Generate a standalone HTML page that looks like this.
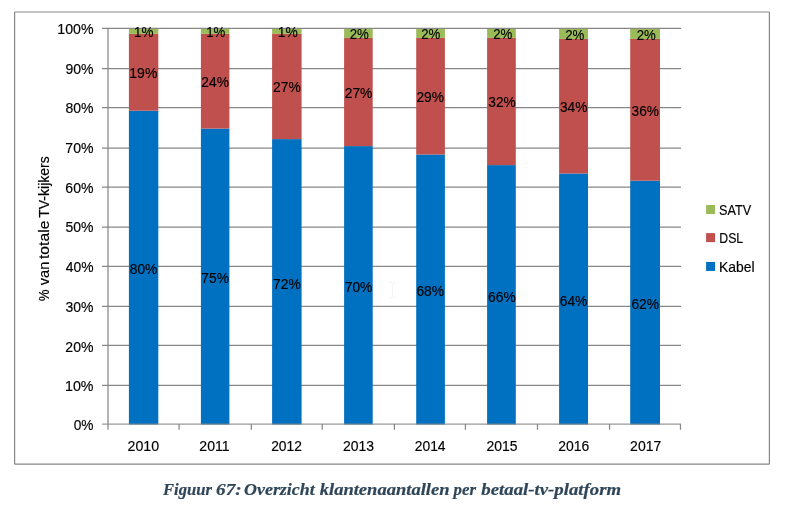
<!DOCTYPE html>
<html lang="nl">
<head>
<meta charset="utf-8">
<title>Figuur 67: Overzicht klantenaantallen per betaal-tv-platform</title>
<style>
html,body{margin:0;padding:0;background:#fff;}
body{width:797px;height:506px;overflow:hidden;}
svg{display:block;}
text{font-family:"Liberation Sans","DejaVu Sans",sans-serif;font-size:13.8px;fill:#000;stroke:#000;stroke-width:0.15px;}
.cap text,.cap tspan{font-family:"Liberation Serif","DejaVu Serif",serif;font-weight:bold;font-style:italic;font-size:17.3px;fill:#2f4559;stroke:#2f4559;stroke-width:0.2px;}
</style>
</head>
<body>
<svg width="797" height="506" viewBox="0 0 797 506">
<rect x="0" y="0" width="797" height="506" fill="#fff"/>
<!-- chart frame -->
<rect x="14.6" y="12" width="754.8" height="452.15" rx="0.6" fill="#fff" stroke="#878787" stroke-width="1.2"/>
<!-- gridlines -->
<g stroke="#878787" stroke-width="1.25">
<line x1="102.00" y1="28.48" x2="681.00" y2="28.48"/>
<line x1="102.00" y1="68.65" x2="681.00" y2="68.65"/>
<line x1="102.00" y1="107.65" x2="681.00" y2="107.65"/>
<line x1="102.00" y1="148.00" x2="681.00" y2="148.00"/>
<line x1="102.00" y1="187.00" x2="681.00" y2="187.00"/>
<line x1="102.00" y1="227.00" x2="681.00" y2="227.00"/>
<line x1="102.00" y1="266.25" x2="681.00" y2="266.25"/>
<line x1="102.00" y1="306.40" x2="681.00" y2="306.40"/>
<line x1="102.00" y1="345.42" x2="681.00" y2="345.42"/>
<line x1="102.00" y1="385.45" x2="681.00" y2="385.45"/>
</g>
<!-- axes and ticks -->
<g stroke="#878787" stroke-width="1.25">
<line x1="108.00" y1="27.98" x2="108.00" y2="429.80"/>
<line x1="179.07" y1="424.00" x2="179.07" y2="429.80"/>
<line x1="251.33" y1="424.00" x2="251.33" y2="429.80"/>
<line x1="322.23" y1="424.00" x2="322.23" y2="429.80"/>
<line x1="394.38" y1="424.00" x2="394.38" y2="429.80"/>
<line x1="465.42" y1="424.00" x2="465.42" y2="429.80"/>
<line x1="537.47" y1="424.00" x2="537.47" y2="429.80"/>
<line x1="609.57" y1="424.00" x2="609.57" y2="429.80"/>
<line x1="680.46" y1="424.00" x2="680.46" y2="429.80"/>
</g>
<!-- stacked bars -->
<g><rect x="128.90" y="110.70" width="29.4" height="313.80" fill="#0070C0"/><rect x="128.90" y="33.90" width="29.4" height="76.80" fill="#C0504D"/><rect x="128.90" y="28.98" width="29.4" height="4.92" fill="#9BBB59"/></g>
<g><rect x="200.90" y="128.60" width="28.5" height="295.90" fill="#0070C0"/><rect x="200.90" y="33.90" width="28.5" height="94.70" fill="#C0504D"/><rect x="200.90" y="28.98" width="28.5" height="4.92" fill="#9BBB59"/></g>
<g><rect x="272.10" y="139.10" width="29.5" height="285.40" fill="#0070C0"/><rect x="272.10" y="33.90" width="29.5" height="105.20" fill="#C0504D"/><rect x="272.10" y="28.98" width="29.5" height="4.92" fill="#9BBB59"/></g>
<g><rect x="344.10" y="146.10" width="28.6" height="278.40" fill="#0070C0"/><rect x="344.10" y="37.90" width="28.6" height="108.20" fill="#C0504D"/><rect x="344.10" y="28.98" width="28.6" height="8.92" fill="#9BBB59"/></g>
<g><rect x="416.20" y="154.50" width="28.7" height="270.00" fill="#0070C0"/><rect x="416.20" y="37.90" width="28.7" height="116.60" fill="#C0504D"/><rect x="416.20" y="28.98" width="28.7" height="8.92" fill="#9BBB59"/></g>
<g><rect x="487.10" y="165.10" width="28.7" height="259.40" fill="#0070C0"/><rect x="487.10" y="37.90" width="28.7" height="127.20" fill="#C0504D"/><rect x="487.10" y="28.98" width="28.7" height="8.92" fill="#9BBB59"/></g>
<g><rect x="559.10" y="173.50" width="28.9" height="251.00" fill="#0070C0"/><rect x="559.10" y="38.90" width="28.9" height="134.60" fill="#C0504D"/><rect x="559.10" y="28.98" width="28.9" height="9.92" fill="#9BBB59"/></g>
<g><rect x="630.20" y="180.70" width="29.8" height="243.80" fill="#0070C0"/><rect x="630.20" y="38.90" width="29.8" height="141.80" fill="#C0504D"/><rect x="630.20" y="28.98" width="29.8" height="9.92" fill="#9BBB59"/></g>
<!-- category axis line (drawn over the bars) -->
<line x1="102.00" y1="424.00" x2="681.00" y2="424.00" stroke="#878787" stroke-width="1.25" stroke-opacity="0.85"/>
<!-- data labels -->
<text x="133.91" y="37.00" textLength="19.47" lengthAdjust="spacingAndGlyphs">1%</text>
<text x="129.33" y="78.00" textLength="28.01" lengthAdjust="spacingAndGlyphs">19%</text>
<text x="129.79" y="274.00" textLength="27.54" lengthAdjust="spacingAndGlyphs">80%</text>
<text x="206.23" y="37.00" textLength="19.14" lengthAdjust="spacingAndGlyphs">1%</text>
<text x="201.36" y="87.00" textLength="27.65" lengthAdjust="spacingAndGlyphs">24%</text>
<text x="201.33" y="283.00" textLength="27.68" lengthAdjust="spacingAndGlyphs">75%</text>
<text x="277.79" y="37.00" textLength="20.01" lengthAdjust="spacingAndGlyphs">1%</text>
<text x="273.04" y="92.00" textLength="27.65" lengthAdjust="spacingAndGlyphs">27%</text>
<text x="273.01" y="289.00" textLength="27.68" lengthAdjust="spacingAndGlyphs">72%</text>
<text x="349.76" y="39.00" textLength="19.11" lengthAdjust="spacingAndGlyphs">2%</text>
<text x="344.72" y="98.00" textLength="27.65" lengthAdjust="spacingAndGlyphs">27%</text>
<text x="344.69" y="292.00" textLength="27.68" lengthAdjust="spacingAndGlyphs">70%</text>
<text x="421.26" y="39.00" textLength="19.11" lengthAdjust="spacingAndGlyphs">2%</text>
<text x="416.40" y="102.00" textLength="27.65" lengthAdjust="spacingAndGlyphs">29%</text>
<text x="416.40" y="296.00" textLength="27.65" lengthAdjust="spacingAndGlyphs">68%</text>
<text x="493.26" y="39.00" textLength="19.11" lengthAdjust="spacingAndGlyphs">2%</text>
<text x="488.26" y="107.00" textLength="27.47" lengthAdjust="spacingAndGlyphs">32%</text>
<text x="488.08" y="302.00" textLength="27.65" lengthAdjust="spacingAndGlyphs">66%</text>
<text x="565.26" y="40.00" textLength="19.11" lengthAdjust="spacingAndGlyphs">2%</text>
<text x="559.94" y="112.00" textLength="27.47" lengthAdjust="spacingAndGlyphs">34%</text>
<text x="559.76" y="306.00" textLength="27.65" lengthAdjust="spacingAndGlyphs">64%</text>
<text x="636.76" y="40.00" textLength="19.11" lengthAdjust="spacingAndGlyphs">2%</text>
<text x="631.62" y="116.00" textLength="27.47" lengthAdjust="spacingAndGlyphs">36%</text>
<text x="631.44" y="309.00" textLength="27.65" lengthAdjust="spacingAndGlyphs">62%</text>
<!-- value axis labels -->
<text x="57.31" y="34.00" textLength="36.25" lengthAdjust="spacingAndGlyphs">100%</text>
<text x="65.41" y="74.00" textLength="28.13" lengthAdjust="spacingAndGlyphs">90%</text>
<text x="65.48" y="113.00" textLength="28.06" lengthAdjust="spacingAndGlyphs">80%</text>
<text x="65.34" y="153.00" textLength="28.20" lengthAdjust="spacingAndGlyphs">70%</text>
<text x="65.37" y="193.00" textLength="28.17" lengthAdjust="spacingAndGlyphs">60%</text>
<text x="65.52" y="232.00" textLength="28.02" lengthAdjust="spacingAndGlyphs">50%</text>
<text x="65.76" y="272.00" textLength="27.77" lengthAdjust="spacingAndGlyphs">40%</text>
<text x="65.55" y="312.00" textLength="27.98" lengthAdjust="spacingAndGlyphs">30%</text>
<text x="65.37" y="352.00" textLength="28.17" lengthAdjust="spacingAndGlyphs">20%</text>
<text x="65.01" y="391.00" textLength="28.54" lengthAdjust="spacingAndGlyphs">10%</text>
<text x="73.73" y="430.00" textLength="19.82" lengthAdjust="spacingAndGlyphs">0%</text>
<!-- category axis labels -->
<text x="127.56" y="451.00" textLength="31.62" lengthAdjust="spacingAndGlyphs">2010</text>
<text x="199.36" y="451.00" textLength="30.33" lengthAdjust="spacingAndGlyphs">2011</text>
<text x="271.16" y="451.00" textLength="30.76" lengthAdjust="spacingAndGlyphs">2012</text>
<text x="342.95" y="451.00" textLength="31.07" lengthAdjust="spacingAndGlyphs">2013</text>
<text x="414.74" y="451.00" textLength="30.86" lengthAdjust="spacingAndGlyphs">2014</text>
<text x="486.53" y="451.00" textLength="31.04" lengthAdjust="spacingAndGlyphs">2015</text>
<text x="558.32" y="451.00" textLength="31.07" lengthAdjust="spacingAndGlyphs">2016</text>
<text x="630.10" y="451.00" textLength="31.18" lengthAdjust="spacingAndGlyphs">2017</text>
<!-- value axis title -->
<text transform="translate(49,0) rotate(-90)" y="0"><tspan x="-301.34" textLength="11.80" lengthAdjust="spacingAndGlyphs">%</tspan> <tspan x="-285.15" textLength="23.40" lengthAdjust="spacingAndGlyphs">van</tspan> <tspan x="-259.01" textLength="38.37" lengthAdjust="spacingAndGlyphs">totale</tspan> <tspan x="-217.79" textLength="61.55" lengthAdjust="spacingAndGlyphs">TV-kijkers</tspan></text>
<!-- faint text cursor artefact -->
<g stroke="#f3f3f3" stroke-width="1" fill="none"><path d="M389.1 282.5H391.8M393.2 282.5H396M392.5 283V297M389.1 297.4H391.8M393.2 297.4H396"/></g>
<!-- legend -->
<rect x="706.1" y="205.0" width="9" height="9.05" fill="#9BBB59"/>
<text x="719.10" y="215.00" textLength="32.08" lengthAdjust="spacingAndGlyphs">SATV</text>
<rect x="706.1" y="233.1" width="9" height="9.05" fill="#C0504D"/>
<text x="719.29" y="243.00" textLength="23.87" lengthAdjust="spacingAndGlyphs">DSL</text>
<rect x="706.1" y="261.9" width="9" height="9.05" fill="#0070C0"/>
<text x="719.04" y="272.00" textLength="35.58" lengthAdjust="spacingAndGlyphs">Kabel</text>
<!-- caption -->
<g class="cap">
<text y="495.00"><tspan x="163.00" textLength="48.90" lengthAdjust="spacingAndGlyphs">Figuur</tspan> <tspan x="216.13" textLength="25.52" lengthAdjust="spacingAndGlyphs">67:</tspan> <tspan x="244.07" textLength="70.61" lengthAdjust="spacingAndGlyphs">Overzicht</tspan> <tspan x="319.72" textLength="129.79" lengthAdjust="spacingAndGlyphs">klantenaantallen</tspan> <tspan x="453.58" textLength="22.41" lengthAdjust="spacingAndGlyphs">per</tspan> <tspan x="481.37" textLength="139.74" lengthAdjust="spacingAndGlyphs">betaal-tv-platform</tspan></text>
</g>
</svg>
</body>
</html>
